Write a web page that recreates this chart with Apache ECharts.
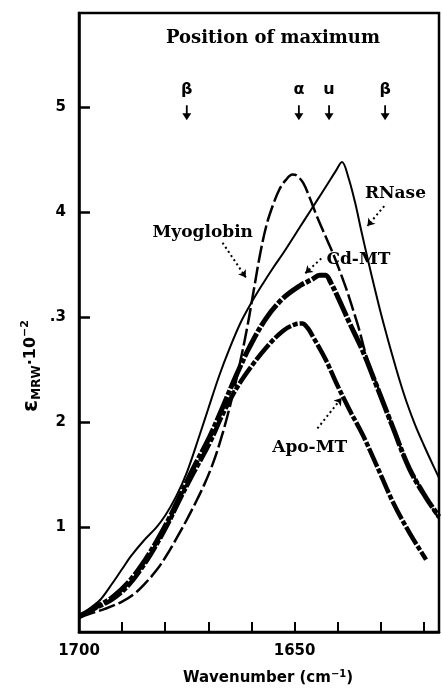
<!DOCTYPE html>
<html><head><meta charset="utf-8">
<script src="https://cdn.jsdelivr.net/npm/echarts@6/dist/echarts.min.js"></script>
<style>html,body{margin:0;padding:0;background:#fff}#c{width:442px;height:688px}</style>
</head><body><div id="c"></div>
<script>
// ---- data (wavenumber cm-1, epsilon_MRW x 10^-2) ----
const rnase = [[1700,0.15],[1697,0.24],[1695,0.31],[1692.5,0.45],[1690,0.60],[1688,0.72],[1685,0.87],[1682,1.00],[1680,1.11],[1677.5,1.29],[1675,1.52],[1672,1.88],[1670,2.13],[1667.5,2.44],[1665,2.71],[1662.5,2.95],[1660,3.14],[1657.5,3.31],[1655,3.47],[1652.5,3.62],[1650,3.78],[1647.5,3.94],[1645,4.10],[1642.5,4.26],[1640.5,4.39],[1639,4.48],[1637.5,4.33],[1636,4.10],[1634.5,3.82],[1633,3.55],[1631.5,3.29],[1630,3.04],[1628.5,2.81],[1627,2.59],[1625.5,2.38],[1624,2.19],[1622,1.97],[1620,1.78],[1618,1.60],[1616.5,1.47]];
const myoglobin = [[1700,0.14],[1697,0.18],[1694,0.22],[1690,0.29],[1687,0.37],[1684.5,0.47],[1682,0.59],[1680,0.71],[1677,0.92],[1675,1.07],[1673,1.23],[1671,1.40],[1669,1.60],[1667,1.85],[1665,2.15],[1663,2.50],[1661,2.90],[1659.5,3.25],[1658,3.60],[1656.5,3.88],[1655,4.07],[1653.5,4.22],[1652,4.31],[1650.5,4.36],[1649.5,4.35],[1648,4.28],[1646.5,4.14],[1645,3.98],[1642.7,3.76],[1641,3.60],[1639.6,3.45],[1638,3.27],[1636.5,3.08],[1635,2.88],[1633.5,2.65],[1631.5,2.42],[1629.5,2.21],[1628,2.04],[1626.5,1.87],[1625,1.72],[1623.5,1.58],[1622,1.46],[1620,1.32],[1618.5,1.21],[1616.5,1.08]];
const cdMT = [[1700,0.15],[1696,0.24],[1692.3,0.33],[1688.4,0.48],[1684.6,0.69],[1681.5,0.90],[1679,1.09],[1676.9,1.27],[1673.5,1.56],[1669.7,1.86],[1666.6,2.15],[1663.5,2.45],[1660.4,2.72],[1656.6,2.99],[1652.7,3.18],[1648.8,3.30],[1646,3.36],[1644.2,3.40],[1642.8,3.40],[1641.6,3.33],[1639.6,3.16],[1637.3,2.95],[1634.2,2.68],[1631.1,2.36],[1627.2,1.95],[1623.4,1.56],[1619.5,1.28],[1616.5,1.10]];
const apoMT = [[1700,0.14],[1696,0.23],[1692.3,0.31],[1688.4,0.45],[1684.6,0.66],[1681.5,0.87],[1679,1.06],[1676.9,1.24],[1673.5,1.51],[1669.7,1.80],[1666.6,2.08],[1663.5,2.32],[1660.4,2.51],[1656.6,2.71],[1652.7,2.87],[1650,2.93],[1648.2,2.94],[1647,2.90],[1645.8,2.82],[1642.7,2.59],[1640.4,2.38],[1637.3,2.12],[1634.2,1.88],[1631.1,1.60],[1627.2,1.24],[1623.4,0.95],[1619.5,0.69]];
const maxPositions = [1675, 1649, 1642, 1629];
const maxLabels = ['β', 'α', 'u', 'β'];
const maxLevel = 4.95;
const xTicks = [1690, 1680, 1670, 1660, 1650, 1640, 1630, 1620];
const xTickLabels = [1700, 1650];
const yTicks = [1, 2, 3, 4, 5];
const yTickLabels = ['1', '2', '.3', '4', '5'];
const seriesNames = ['RNase', 'Myoglobin', 'Cd-MT', 'Apo-MT'];
// annotation text anchors & dotted pointer arrows (data coords)
const annotLabels = [['Myoglobin', 1671.3, 3.81], ['RNase', 1626.6, 4.18], ['Cd-MT', 1635.2, 3.55], ['Apo-MT', 1646.5, 1.76]];
const annotArrows = [[[1666.7, 3.71], [1661.3, 3.38]], [[1629.2, 4.06], [1633.1, 3.87]], [[1643.8, 3.56], [1647.5, 3.42]], [[1644.7, 1.94], [1639.1, 2.23]]];

const chart = echarts.init(document.getElementById('c'), null, {renderer: 'canvas'});
const serif = 'DejaVu Serif';
const sans = 'DejaVu Sans';
const lineSeries = (name, data, width, type) => ({
  name, type: 'line', data, showSymbol: false, smooth: 0.35,
  lineStyle: {color: '#000', width, type, cap: 'butt', join: 'round'}, z: 3, silent: true
});
const arrowPath = 'path://M4,0 L6,0 L6,8 L10,8 L5,15 L0,8 L4,8 Z';

chart.setOption({
  animation: false,
  backgroundColor: '#fff',
  grid: {left: 79, right: 3, top: 13, bottom: 56, show: true, borderColor: '#000', borderWidth: 2.5, containLabel: false},
  xAxis: {
    type: 'value', inverse: true, min: 1616.5, max: 1700,
    axisLine: {lineStyle: {color: '#000', width: 2.5}},
    splitLine: {show: false},
    axisTick: {inside: true, length: 10, customValues: xTicks, lineStyle: {color: '#000', width: 2}},
    axisLabel: {customValues: xTickLabels, margin: 12, color: '#000', fontFamily: sans, fontWeight: 'bold', fontSize: 15,
      formatter: v => String(Math.round(v))}
  },
  yAxis: {
    type: 'value', min: 0, max: 5.9,
    axisLine: {lineStyle: {color: '#000', width: 2.5}},
    splitLine: {show: false},
    axisTick: {inside: true, length: 11, customValues: yTicks, lineStyle: {color: '#000', width: 2.5}},
    axisLabel: {customValues: yTicks, margin: 13, color: '#000', fontFamily: sans, fontWeight: 'bold', fontSize: 15,
      formatter: v => yTickLabels[yTicks.indexOf(Math.round(v))] || ''}
  },
  graphic: [
    {type: 'text', x: 273, y: 38, style: {text: 'Position of maximum', font: 'bold 18px "DejaVu Serif"', fill: '#000', textAlign: 'center', textVerticalAlign: 'middle'}},
    {type: 'text', x: 268, y: 678, style: {text: 'Wavenumber (cm{p|−1})', font: 'bold 15px "DejaVu Sans"', fill: '#000', textAlign: 'center', textVerticalAlign: 'middle',
      rich: {p: {fontSize: 10, fontWeight: 'bold', fontFamily: sans, verticalAlign: 'top', padding: [0, 0, 8, 0]}}}},
    {type: 'text', x: 31, y: 366, rotation: Math.PI / 2, style: {
      text: '{e|ε}{s|MRW}{n|·10}{p|−2}', fill: '#000', textAlign: 'center', textVerticalAlign: 'middle',
      rich: {
        e: {fontSize: 22, fontWeight: 'bold', fontFamily: sans, lineHeight: 30},
        s: {fontSize: 12, fontWeight: 'bold', fontFamily: sans, lineHeight: 30, padding: [12, 0, 0, 0]},
        n: {fontSize: 16, fontWeight: 'bold', fontFamily: sans, lineHeight: 30},
        p: {fontSize: 11, fontWeight: 'bold', fontFamily: sans, lineHeight: 30, padding: [0, 0, 12, 0]}
      }}}
  ],
  series: [
    lineSeries(seriesNames[0], rnase, 2, 'solid'),
    lineSeries(seriesNames[1], myoglobin, 2.5, [17, 4]),
    lineSeries(seriesNames[2], cdMT, 5, [26, 2, 5, 2]),
    lineSeries(seriesNames[3], apoMT, 4.5, [20, 2, 5, 2]),
    {
      type: 'scatter', silent: true, z: 4,
      symbol: arrowPath, symbolSize: [9, 15], itemStyle: {color: '#000', opacity: 1},
      data: maxPositions.map((p, i) => ({value: [p, maxLevel], name: maxLabels[i]})),
      label: {show: true, position: 'top', distance: 7, formatter: '{b}', color: '#000', opacity: 1, fontFamily: sans, fontWeight: 'bold', fontSize: 16}
    },
    {
      type: 'scatter', silent: true, z: 5, symbolSize: 0, itemStyle: {opacity: 1},
      data: annotLabels.map(a => ({name: a[0], value: [a[1], a[2]]})),
      label: {show: true, position: 'inside', formatter: '{b}', color: '#000', opacity: 1, fontFamily: serif, fontWeight: 'bold', fontSize: 17},
      markLine: {
        silent: true, symbol: ['none', 'arrow'], symbolSize: 7, label: {show: false},
        lineStyle: {color: '#000', width: 2, type: [2, 3], opacity: 1},
        data: annotArrows.map(a => [{coord: a[0]}, {coord: a[1]}])
      }
    }
  ]
});
</script></body></html>
